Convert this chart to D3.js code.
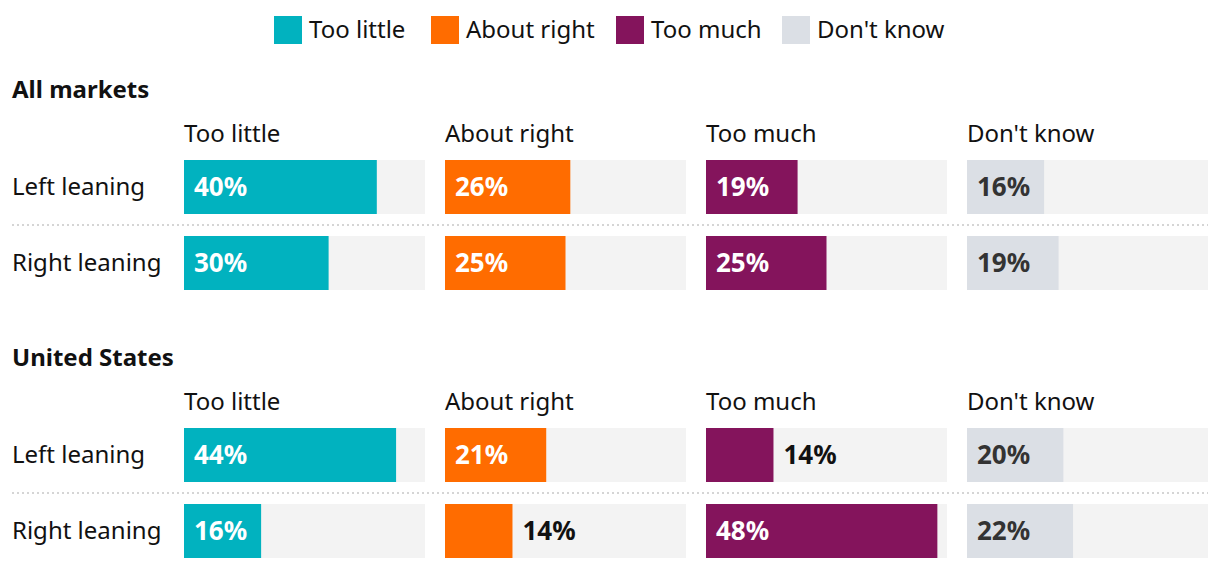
<!DOCTYPE html>
<html lang="en">
<head>
<meta charset="UTF-8">
<title>Too little / too much</title>
<script src="https://d3js.org/d3.v7.min.js"></script>
<style>
  body { margin: 0; background: #fff; font-family: "Noto Sans", "Open Sans", sans-serif; }
  svg text { fill: #111; }
</style>
</head>
<body>
<svg id="chart" width="1220" height="570"></svg>
<script>
// data
const categories = ["Too little", "About right", "Too much", "Don't know"];
const colors = ["#01b2bf", "#ff6c00", "#84145c", "#dbdfe5"];
const groups = ["All markets", "United States"];
const rows = ["Left leaning", "Right leaning"];
// values[group][row][category]
const allMarkets = [[40, 26, 19, 16], [30, 25, 25, 19]];
const unitedStates = [[44, 21, 14, 20], [16, 14, 48, 22]];
const groupValues = [allMarkets, unitedStates];

const svg = d3.select("#chart");
const fontSize = 24;

// legend
const legendX = [274, 431, 616, 782];
const legend = svg.append("g");
categories.forEach((c, i) => {
  const g = legend.append("g").attr("transform", `translate(${legendX[i]},16)`);
  g.append("rect").attr("width", 28).attr("height", 28).attr("fill", colors[i]);
  g.append("text").attr("x", 35).attr("y", 22).attr("font-size", fontSize).text(c);
});

// scales
const x = d3.scaleBand().domain(categories).range([184, 1208]).paddingInner(0.0766);
const v = d3.scaleLinear().domain([0, 50]).range([0, x.bandwidth()]);
const y = d3.scaleBand().domain(rows).range([160, 290]).paddingInner(22 / 76);
const groupStep = 268;

groups.forEach((name, gi) => {
  const g = svg.append("g").attr("transform", `translate(0,${gi * groupStep})`);

  g.append("text").attr("x", 12).attr("y", 98)
    .attr("font-size", fontSize).attr("font-weight", "bold").text(name);

  g.selectAll("text.head").data(categories).join("text")
    .attr("class", "head")
    .attr("x", d => x(d)).attr("y", 142)
    .attr("font-size", fontSize).text(d => d);

  // dotted separator between rows
  const sepY = (y(rows[0]) + y.bandwidth() + y(rows[1])) / 2;
  g.append("line").attr("x1", 12).attr("x2", 1208).attr("y1", sepY).attr("y2", sepY)
    .attr("stroke", "#c8c8c8").attr("stroke-width", 1.5).attr("stroke-dasharray", "2,3");

  rows.forEach((r, ri) => {
    const ry = y(r);
    g.append("text").attr("x", 12).attr("y", ry + y.bandwidth() / 2)
      .attr("dy", "0.35em").attr("font-size", fontSize).text(r);

    const vals = groupValues[gi][ri];
    const cells = g.selectAll(null).data(categories).join("g")
      .attr("transform", d => `translate(${x(d)},${ry})`);

    cells.append("rect").attr("width", x.bandwidth()).attr("height", y.bandwidth())
      .attr("fill", "#f3f3f3");
    cells.append("rect").attr("width", (d, i) => v(vals[i])).attr("height", y.bandwidth())
      .attr("fill", (d, i) => colors[i]);
    cells.append("text")
      .attr("x", (d, i) => vals[i] < 15 ? v(vals[i]) + 10 : 10)
      .attr("y", y.bandwidth() / 2).attr("dy", "0.35em")
      .attr("font-size", 26).attr("font-weight", "bold")
      .style("fill", (d, i) => vals[i] < 15 ? "#111" : (i === 3 ? "#333" : "#fff"))
      .text((d, i) => vals[i] + "%");
  });
});
</script>
</body>
</html>
